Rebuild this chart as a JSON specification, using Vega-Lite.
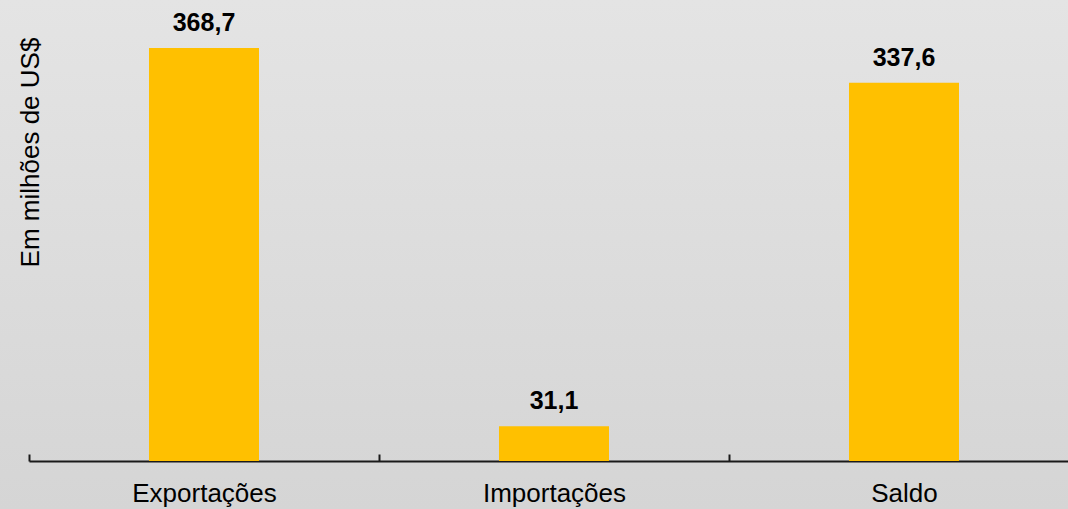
{
  "$schema": "https://vega.github.io/schema/vega-lite/v6.json",
  "width": 1068,
  "height": 509,
  "autosize": {"type": "none"},
  "padding": 0,
  "background": "#dddddd",
  "config": {
    "font": "Liberation Sans",
    "locale": {"number": {"decimal": ",", "thousands": ".", "grouping": [3], "currency": ["US$", ""]}},
    "view": {
      "stroke": null,
      "fill": {
        "gradient": "linear",
        "x1": 0, "y1": 0, "x2": 0, "y2": 1,
        "stops": [
          {"offset": 0, "color": "#e4e4e4"},
          {"offset": 1, "color": "#d5d5d5"}
        ]
      }
    }
  },
  "data": {
    "values": [
      {"categoria": "Exportações", "valor": 368.7},
      {"categoria": "Importações", "valor": 31.1},
      {"categoria": "Saldo", "valor": 337.6}
    ]
  },
  "encoding": {
    "x": {
      "field": "categoria",
      "type": "nominal",
      "sort": null,
      "scale": {"range": [29, 1079], "paddingInner": 0, "paddingOuter": 0},
      "axis": {
        "title": null,
        "orient": "bottom",
        "offset": -48,
        "labelAngle": 0,
        "tickBand": "extent",
        "tickSize": -7,
        "tickWidth": 2,
        "tickColor": "#1a1a1a",
        "domainWidth": 2,
        "domainColor": "#1a1a1a",
        "labelFontSize": 26,
        "labelColor": "#000000",
        "labelBaseline": "alphabetic",
        "labelPadding": 47,
        "grid": false
      }
    },
    "y": {
      "field": "valor",
      "type": "quantitative",
      "scale": {"domain": [-42.85, 411.55], "nice": false, "zero": false},
      "axis": {
        "title": "Em milhões de US$",
        "labels": false,
        "ticks": false,
        "domain": false,
        "grid": false,
        "titleFontSize": 26,
        "titleFontWeight": "normal",
        "titleColor": "#000000",
        "titleAngle": -90,
        "titleAlign": "center",
        "titleBaseline": "alphabetic",
        "titleX": 38,
        "titleY": 152
      }
    }
  },
  "layer": [
    {
      "mark": {"type": "bar", "color": "#ffc000", "width": {"band": 0.3143}},
      "encoding": {"y2": {"datum": 0}}
    },
    {
      "mark": {"type": "text", "dy": -17, "baseline": "alphabetic", "align": "center", "fontSize": 25, "fontWeight": "bold", "color": "#000000"},
      "encoding": {"text": {"field": "valor", "type": "quantitative", "format": ".1f"}}
    }
  ]
}
